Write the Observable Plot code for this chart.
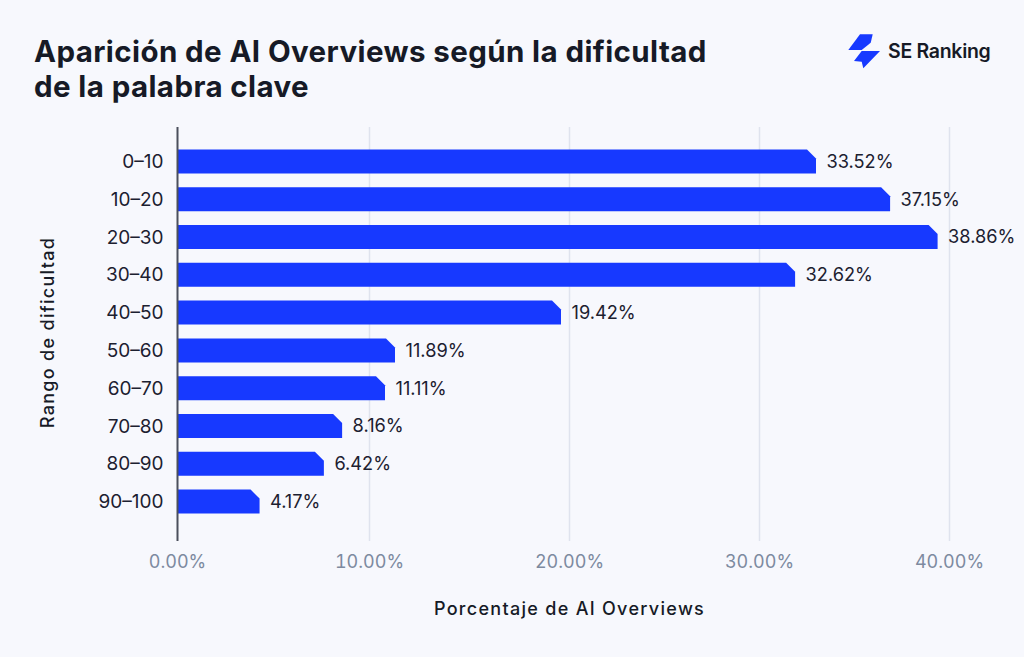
<!DOCTYPE html>
<html><head><meta charset="utf-8">
<script src="https://cdn.jsdelivr.net/npm/d3@7"></script>
<script src="https://cdn.jsdelivr.net/npm/@observablehq/plot@0.6"></script>
<style>
html,body{margin:0;padding:0;background:#f7f8fd;width:1024px;height:657px;overflow:hidden;font-family:Inter,sans-serif}
#head{position:relative;height:105px}
#title{position:absolute;left:34px;top:34px;margin:0;font-size:29.5px;line-height:35px;font-weight:700;color:#161a26;letter-spacing:.4px}
#logo{position:absolute;left:848px;top:33px;display:flex;align-items:center}
#logo span{font-size:19.5px;font-weight:600;color:#161a26;margin-left:8px;letter-spacing:-.3px}
svg.plot{display:block;background:transparent}
.axlab{letter-spacing:1.3px}
</style></head><body>
<div id="head">
<h1 id="title">Aparición de AI Overviews según la dificultad<br>de la palabra clave</h1>
<div id="logo"><svg width="32" height="36" viewBox="0 0 32 36"><path d="M12 1.3H24.7L22.7 9.7L13.7 17H.3Z" fill="#1739ff"/><path d="M6 28L13.7 18H32L15.3 35.3L13.7 28.7Z" fill="#1739ff"/></svg><span>SE Ranking</span></div>
</div>
<div id="chart"></div>
<script>
const categories = ["0–10","10–20","20–30","30–40","40–50","50–60","60–70","70–80","80–90","90–100"];
const barLengths = [33.0,36.9,39.4,31.9,19.6,11.3,10.8,8.6,7.65,4.3];
const valueLabels = ["33.52%","37.15%","38.86%","32.62%","19.42%","11.89%","11.11%","8.16%","6.42%","4.17%"];
const xTicks = [0,10,20,30,40];
const xTickLabels = ["0.00%","10.00%","20.00%","30.00%","40.00%"];
const rows = categories.map((c,i)=>({c,v:barLengths[i],l:valueLabels[i]}));

const notch = 9;
function notched(index, scales, values, dimensions, context, next){
  const g = next(index, scales, values, dimensions, context);
  d3.select(g).selectAll("rect").each(function(){
    const r = d3.select(this);
    const x=+r.attr("x"), y=+r.attr("y"), w=+r.attr("width"), h=+r.attr("height");
    d3.select(this.parentNode).insert("path",()=>this)
      .attr("d",`M${x},${y}H${x+w-notch}L${x+w},${y+notch}V${y+h}H${x}Z`);
    r.remove();
  });
  return g;
}

const plot = Plot.plot({
  width:1024, height:552,
  marginTop:22, marginBottom:116, marginLeft:177, marginRight:75,
  style:{background:"transparent",fontFamily:"Inter,sans-serif",overflow:"visible"},
  x:{type:"linear",domain:xTicks, range:[177,369,569,759,949], label:null},
  y:{domain:categories, round:false, paddingInner:.365, paddingOuter:.66, align:.45, label:null},
  marks:[
    Plot.ruleX(xTicks.slice(1),{stroke:"#dfe3ee",strokeWidth:1.5}),
    Plot.barX(rows,{x:"v",y:"c",fill:"#1739ff",render:notched}),
    Plot.ruleX([0],{stroke:"#4b4f5c",strokeWidth:2}),
    Plot.text(rows,{x:"v",y:"c",text:"l",textAnchor:"start",dx:10,fontSize:18.2,fill:"#1c2030"}),
    Plot.axisY({tickSize:0,tickPadding:14,fontSize:19,color:"#1c2030",label:null}),
    Plot.axisX({ticks:xTicks,tickSize:0,tickPadding:14,tickFormat:(d,i)=>xTickLabels[i],fontSize:18,color:"#7d8aa0",label:null}),
    Plot.text(["Porcentaje de AI Overviews"],{frameAnchor:"bottom",x:20,dy:73,fontSize:18,fontWeight:500,fill:"#161a26",className:"axlab"}),
    Plot.text(["Rango de dificultad"],{frameAnchor:"left",textAnchor:"middle",rotate:-90,dx:-129,dy:-2,fontSize:18,fontWeight:500,fill:"#161a26",className:"axlab"})
  ]
});
document.getElementById("chart").append(plot);
</script>
</body></html>
